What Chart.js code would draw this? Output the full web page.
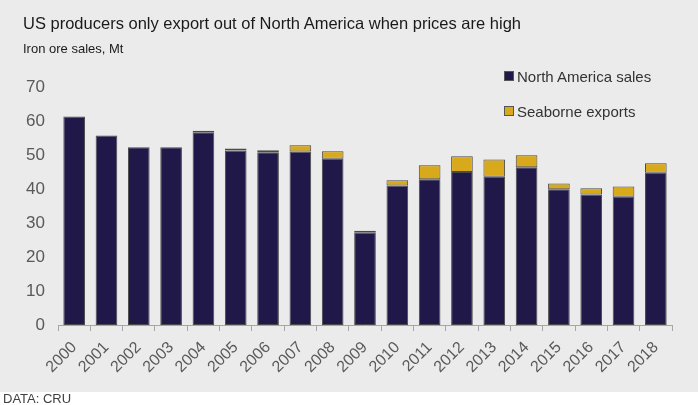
<!DOCTYPE html>
<html>
<head>
<meta charset="utf-8">
<script src="https://cdn.jsdelivr.net/npm/chart.js@4.4.1/dist/chart.umd.min.js"></script>
<style>
  html, body { margin: 0; padding: 0; background: #ffffff; }
  body { width: 698px; height: 405px; position: relative; overflow: hidden; font-family: "Liberation Sans", Arial, sans-serif; }
  #panel { position: absolute; left: 0; top: 0; width: 698px; height: 392px; background: #ebebeb; }
  #wrap { position: absolute; left: 0; top: 0; width: 698px; height: 392px; }
  .txt { position: absolute; white-space: nowrap; }
  #title { left: 23px; top: 14px; font-size: 16.5px; color: #1a1a1a; }
  #subtitle { left: 23px; top: 41px; font-size: 13px; color: #1a1a1a; }
  #source { left: 3px; top: 391px; font-size: 13px; color: #404040; }
  .leg { position: absolute; left: 504px; font-size: 15px; color: #333333; white-space: nowrap; }
  .sw { display: inline-block; width: 8px; height: 8px; border: 1px solid #555; margin-right: 3px; vertical-align: 1px; }
</style>
</head>
<body>
<div id="panel"></div>
<div id="wrap"><canvas id="c" width="698" height="392"></canvas></div>
<div class="txt" id="title">US producers only export out of North America when prices are high</div>
<div class="txt" id="subtitle">Iron ore sales, Mt</div>
<div class="leg" id="leg1" style="top:68px;"><span class="sw" style="background:#201848"></span>North America sales</div>
<div class="leg" id="leg2" style="top:103px;"><span class="sw" style="background:#d8a91b"></span>Seaborne exports</div>
<div class="txt" id="source">DATA: CRU</div>
<script>
const years = ["2000","2001","2002","2003","2004","2005","2006","2007","2008","2009","2010","2011","2012","2013","2014","2015","2016","2017","2018"];
const northAmericaSales = [61.3, 55.7, 52.3, 52.3, 56.7, 51.3, 50.8, 51.0, 48.9, 27.1, 41.0, 42.9, 45.0, 43.6, 46.4, 39.9, 38.4, 37.7, 44.8];
const seaborneExports = [0, 0, 0, 0, 0.4, 0.6, 0.6, 1.9, 2.2, 0.6, 1.6, 4.1, 4.6, 5.1, 3.5, 1.7, 1.8, 3.0, 2.8];
const yTicks = [0, 10, 20, 30, 40, 50, 60, 70];

const ctx = document.getElementById('c').getContext('2d');
new Chart(ctx, {
  type: 'bar',
  data: {
    labels: years,
    datasets: [
      { label: 'North America sales', data: northAmericaSales, backgroundColor: '#201848', borderColor: '#4a4a4a', borderWidth: 1, borderSkipped: false, barPercentage: 0.67, categoryPercentage: 1 },
      { label: 'Seaborne exports', data: seaborneExports, backgroundColor: '#d8a91b', borderColor: '#4a4a4a', borderWidth: 1, borderSkipped: false, barPercentage: 0.67, categoryPercentage: 1 }
    ]
  },
  options: {
    responsive: false,
    animation: false,
    devicePixelRatio: 1,
    layout: { padding: { left: 0, right: 26, top: 87, bottom: 0 } },
    plugins: { legend: { display: false }, tooltip: { enabled: false }, title: { display: false } },
    scales: {
      x: {
        stacked: true,
        offset: true,
        grid: { display: true, drawOnChartArea: false, drawTicks: true, tickLength: 6, color: '#a6a6a6', offset: true },
        border: { display: true, color: '#a6a6a6', width: 1 },
        ticks: { minRotation: 45, maxRotation: 45, padding: 7, color: '#595959', font: { family: 'Liberation Sans', size: 16 } },
        afterFit: (s) => { s.height = 67; }
      },
      y: {
        stacked: true,
        min: 0,
        max: 70,
        afterBuildTicks: (s) => { s.ticks = yTicks.map(v => ({ value: v })); },
        grid: { display: false },
        border: { display: false },
        ticks: { padding: 5, color: '#595959', font: { family: 'Liberation Sans', size: 17 } },
        afterFit: (s) => { s.width = 58; }
      }
    }
  }
});
</script>
</body>
</html>
